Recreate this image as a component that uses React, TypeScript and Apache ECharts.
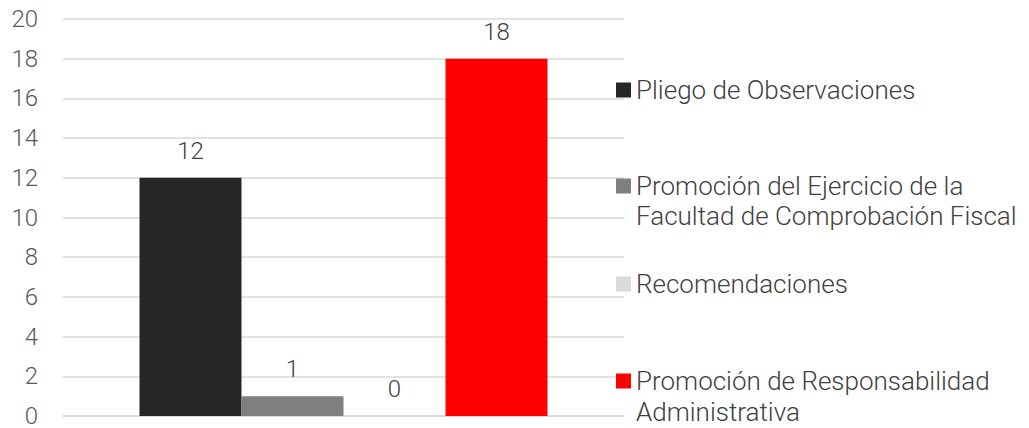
import React, { useEffect, useRef } from "react";
import * as echarts from "echarts";

const categories = [""];
const seriesNames = [
  "Pliego de Observaciones",
  "Promoción del Ejercicio de la Facultad de Comprobación Fiscal",
  "Recomendaciones",
  "Promoción de Responsabilidad Administrativa",
];
const legendLines = [
  ["Pliego de Observaciones"],
  ["Promoción del Ejercicio de la", "Facultad de Comprobación Fiscal"],
  ["Recomendaciones"],
  ["Promoción de Responsabilidad", "Administrativa"],
];
const seriesValues = [[12], [1], [0], [18]];
const colors = ["#262626", "#7f7f7f", "#d9d9d9", "#ff0000"];
const yTicks = { min: 0, max: 20, interval: 2 };

const FONT = "'Roboto Light', Roboto";
const TEXT = "#404040";

export default function App() {
  const ref = useRef<HTMLDivElement>(null);
  useEffect(() => {
    if (!ref.current) return;
    const chart = echarts.init(ref.current, null, { renderer: "svg" });
    const legendTops = [72, 168, 266, 363];
    const secondLineY = [216, 412];
    const legends = seriesNames.map((name, i) => ({
      show: true,
      left: 611,
      top: legendTops[i],
      orient: "vertical",
      data: [{ name, icon: "rect" }],
      itemWidth: 15,
      itemHeight: 15,
      itemGap: 0,
      selectedMode: false,
      formatter: () => legendLines[i][0],
      textStyle: { fontFamily: FONT, fontWeight: 300, fontSize: 26, color: TEXT },
    }));
    const graphics: any[] = [];
    let k = 0;
    legendLines.forEach((lines) => {
      if (lines.length > 1) {
        graphics.push({
          type: "text",
          left: 636,
          top: secondLineY[k] - 13,
          style: { text: lines[1], fontFamily: FONT, fontWeight: 300, fontSize: 26, fill: TEXT },
        });
        k++;
      }
    });
    chart.setOption({
      animation: false,
      grid: { left: 63, right: 405, top: 19, bottom: 8.5, containLabel: false },
      legend: legends,
      graphic: graphics,
      xAxis: {
        type: "category",
        data: categories,
        axisLine: { show: true, lineStyle: { color: "#d9d9d9", width: 1.5 } },
        axisTick: { show: false },
        axisLabel: { show: false },
      },
      yAxis: {
        type: "value",
        min: yTicks.min,
        max: yTicks.max,
        interval: yTicks.interval,
        axisLine: { show: false },
        axisTick: { show: false },
        splitLine: { lineStyle: { color: "#d9d9d9", width: 1.5 } },
        axisLabel: { fontFamily: FONT, fontWeight: 300, fontSize: 24, color: "#595959", margin: 25 },
      },
      series: seriesNames.map((name, i) => ({
        name,
        type: "bar",
        data: seriesValues[i],
        barWidth: 102,
        barGap: "0%",
        itemStyle: { color: colors[i] },
        label: {
          show: true,
          position: "top",
          distance: 15,
          fontFamily: FONT,
          fontWeight: 300,
          fontSize: 24,
          color: TEXT,
        },
      })),
    });
    return () => chart.dispose();
  }, []);
  return (
    <div
      ref={ref}
      style={{ position: "absolute", left: 0, top: 0, width: 1029, height: 428 }}
    />
  );
}
